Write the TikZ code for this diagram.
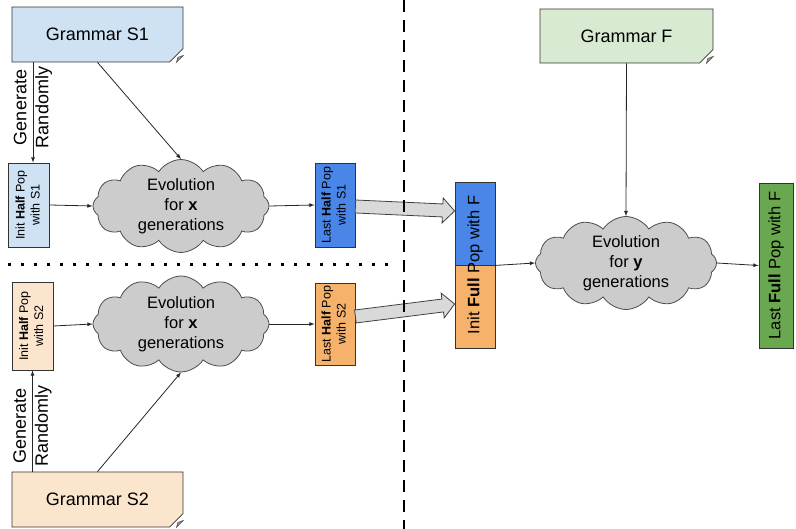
\documentclass[tikz,border=0pt]{standalone}
\usepackage{fontspec}
\setmainfont{Liberation Sans}
\usepackage{graphicx}
\usepackage{xcolor}
\usetikzlibrary{shapes,arrows}
\usetikzlibrary{calc}

\definecolor{gramblue}{HTML}{CFE2F3}
\definecolor{gramorange}{HTML}{FCE5CD}
\definecolor{gramgreen}{HTML}{D9EAD3}
\definecolor{popblue}{HTML}{4A86E8}
\definecolor{poporange}{HTML}{F6B26B}
\definecolor{popgreen}{HTML}{6AA84F}
\definecolor{cloudgray}{HTML}{CCCCCC}
\definecolor{fatgray}{HTML}{D9D9D9}

% wide arrow from #1 to #2 (named coordinates)
\newcommand{\fatarrow}[2]{%
  \coordinate (fathead) at ($(#2)!12pt!(#1)$);
  \filldraw[fat] ($(#1)!6.5pt!90:(#2)$) -- ($(fathead)!6.5pt!90:(#2)$)
    -- ($(fathead)!12.5pt!90:(#2)$) -- (#2) -- ($(fathead)!12.5pt!-90:(#2)$)
    -- ($(fathead)!6.5pt!-90:(#2)$) -- ($(#1)!6.5pt!-90:(#2)$) -- cycle;}

\newcommand{\poptext}[1]{\rotatebox{90}{\begin{tabular}{@{}c@{}}#1\end{tabular}}}

\begin{document}
\begin{tikzpicture}[x=1pt,y=-1pt]
\tikzstyle{grammar}=[draw=black!80,line width=0.8pt,chamfered rectangle,chamfered rectangle corners=south east,chamfered rectangle xsep=7pt,chamfered rectangle ysep=7pt,inner sep=0pt,minimum height=55pt,font=\fontsize{18}{21}\selectfont]
\tikzstyle{pop}=[draw=black!80,line width=0.8pt,rectangle,inner sep=0pt,minimum width=41pt,font=\fontsize{12.5}{15}\selectfont]
\tikzstyle{evolution}=[draw=black!70,line width=0.8pt,cloud,cloud puffs=12,cloud puff arc=115,cloud ignores aspect,fill=cloudgray,inner sep=0pt,align=center,font=\fontsize{16.5}{20}\selectfont]
\tikzstyle{flow}=[->,>=latex,line width=0.8pt,draw=black!85]
\tikzstyle{generate}=[rotate=90,align=center,inner sep=0pt,font=\fontsize{18}{22}\selectfont]
\tikzstyle{fat}=[fill=fatgray,draw=black!75,line width=0.8pt]
\tikzstyle{fold}=[fill=black!40,draw=black!70,line width=0.5pt]
\useasboundingbox (0,0) rectangle (796,529);

% grammars
\node[grammar, fill=gramblue, minimum width=171pt] (gs1) at (97.5,34.5) {Grammar S1};
\node[grammar, fill=gramorange, minimum width=171pt] (gs2) at (97.5,499.5) {Grammar S2};
\node[grammar, fill=gramgreen, minimum width=173pt, minimum height=54pt] (gf) at (626.5,36) {Grammar F};
\foreach \g in {gs1,gs2,gf}
  \filldraw[fold] ($(\g.north east |- \g.south)+(-7,0)$) -- ($(\g.north east |- \g.south)+(-5.5,-5)$) -- ($(\g.north east |- \g.south)+(0,-7)$) -- cycle;

% populations
\node[pop, fill=gramblue, minimum height=84pt] (is1) at (29,205) {\poptext{Init \textbf{Half} Pop\\with S1}};
\node[pop, fill=popblue, minimum width=40pt, minimum height=84pt] (ls1) at (335,205) {\poptext{Last \textbf{Half} Pop\\with S1}};
\node[pop, fill=gramorange, minimum height=88pt] (is2) at (32.5,326) {\poptext{Init \textbf{Half} Pop\\with S2}};
\node[pop, fill=poporange, minimum width=40pt, minimum height=82pt] (ls2) at (335,324) {\poptext{Last \textbf{Half} Pop\\with S2}};
\node[pop, fill=popblue, minimum width=40pt, minimum height=83pt] (ifa) at (475,223.5) {};
\node[pop, fill=poporange, minimum width=40pt, minimum height=83pt] (ifb) at (475,306.5) {};
\node[rotate=90, inner sep=0pt, font=\fontsize{16.5}{20}\selectfont] (iflabel) at (475,265) {Init \textbf{Full} Pop with F};
\node[pop, fill=popgreen, minimum width=34pt, minimum height=165pt, font=\fontsize{16.5}{20}\selectfont] (lf) at (776,265.5) {\rotatebox{90}{Last \textbf{Full} Pop with F}};

% evolutions
\node[evolution, minimum width=176pt, minimum height=90pt] (ev1) at (181,206) {Evolution\\for \textbf{x}\\generations};
\node[evolution, minimum width=176pt, minimum height=96pt] (ev2) at (181,324) {Evolution\\for \textbf{x}\\generations};
\node[evolution, minimum width=181pt, minimum height=91pt] (ev3) at (626,263) {Evolution\\for \textbf{y}\\generations};

% arrows
\draw[flow] ([xshift=4pt]is1.north |- gs1.south) -- node[generate, pos=0.45] {Generate\\Randomly} ([xshift=4pt]is1.north);
\draw[flow] (is2.north |- gs2.north) -- node[generate, pos=0.45] {Generate\\Randomly} (is2.south);
\draw[flow] (gs1.south) -- (ev1.north);
\draw[flow] (gs2.north) -- (ev2.south);
\draw[flow] (gf.south) -- (ev3.north);
\draw[flow] (is1.east) -- (ev1.west);
\draw[flow] (is2.east) -- (ev2.west);
\draw[flow] (ev1.east) -- (ls1.west);
\draw[flow] (ev2.east) -- (ls2.west);
\draw[flow] (ifa.south east) -- (ev3.west);
\draw[flow] (ev3.east) -- (lf.west);

\coordinate (fa1s) at ([yshift=-1.5pt]ls1.east);
\coordinate (fa1e) at ([yshift=12.5pt]ifa.west);
\coordinate (fa2s) at ([yshift=7.5pt]ls2.east);
\coordinate (fa2e) at ([yshift=2.5pt]ifb.west);
\fatarrow{fa1s}{fa1e}
\fatarrow{fa2s}{fa2e}

% separators
\draw[line width=2.6pt, dash pattern=on 12pt off 8pt] (404,0) -- (404,529);
\draw[line width=3pt, dash pattern=on 3pt off 10pt] (8,265) -- (388,265);
\end{tikzpicture}
\end{document}
